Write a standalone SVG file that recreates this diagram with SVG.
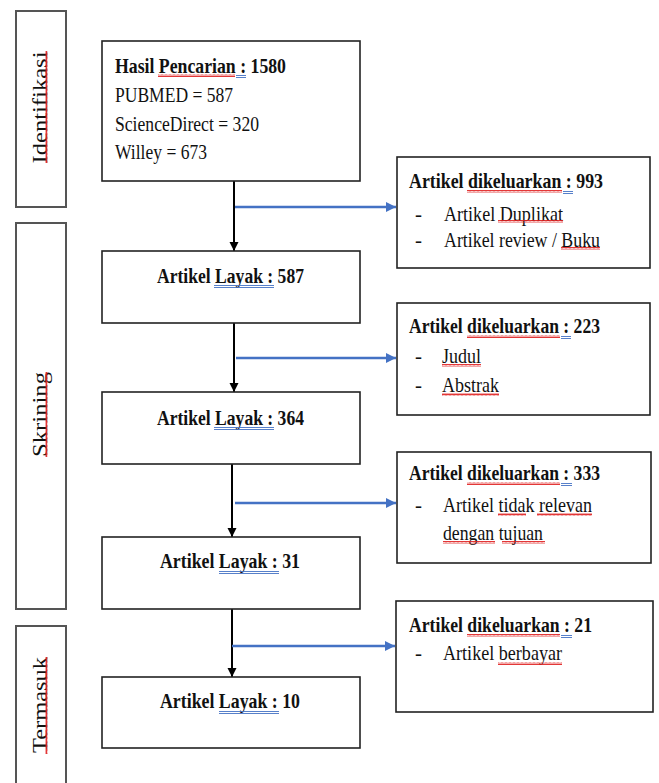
<svg xmlns="http://www.w3.org/2000/svg" width="659" height="783" viewBox="0 0 659 783">
<style>
.phase{fill:#fff;stroke:#555;stroke-width:2}
.box{fill:#fff;stroke:#222;stroke-width:1.6}
.t{font-family:"Liberation Serif","Times New Roman",serif;fill:#111}
.m{font-size:22px}
.s{font-size:21px}
.b{font-weight:bold}
.ph{font-family:"Liberation Serif","Times New Roman",serif;font-size:25px;fill:#111;text-anchor:middle}
.conn{stroke:#000;stroke-width:2;fill:none}
.blue{stroke:#4472C4;stroke-width:2.5;fill:none}
.du{stroke:#4472C4;stroke-width:0.9;fill:none}
</style>
<defs>
<marker id="ab" markerWidth="10" markerHeight="10" refX="9" refY="5" orient="auto" markerUnits="userSpaceOnUse"><path d="M0,0.5 L9,5 L0,9.5 Z" fill="#000"/></marker>
<marker id="abl" markerWidth="11" markerHeight="11" refX="10" refY="5.5" orient="auto" markerUnits="userSpaceOnUse"><path d="M0,0.5 L10,5.5 L0,10.5 Z" fill="#4472C4"/></marker>
<pattern id="wv" width="4" height="3" patternUnits="userSpaceOnUse"><path d="M0,2.5 L1,0.5 L2,2.5 L3,0.5 L4,2.5" stroke="#e02020" stroke-width="0.9" fill="none"/></pattern>
<pattern id="wvv" width="3" height="4" patternUnits="userSpaceOnUse"><path d="M2.5,0 L0.5,1 L2.5,2 L0.5,3 L2.5,4" stroke="#e02020" stroke-width="0.9" fill="none"/></pattern>
</defs>

<g id="phase-identifikasi">
<rect class="phase" x="16" y="11" width="50" height="196"/>
<text class="ph" transform="translate(47,107.5) scale(0.84,1) rotate(-90)" textLength="112" lengthAdjust="spacingAndGlyphs">Identifikasi</text>
<rect x="45" y="51" width="3" height="112" fill="url(#wvv)"/>
</g>
<g id="phase-skrining">
<rect class="phase" x="16" y="223" width="50" height="386"/>
<text class="ph" transform="translate(47,414.5) scale(0.84,1) rotate(-90)" textLength="85" lengthAdjust="spacingAndGlyphs">Skrining</text>
<rect x="45" y="372" width="3" height="85" fill="url(#wvv)"/>
</g>
<g id="phase-termasuk">
<rect class="phase" x="16" y="626" width="50" height="170"/>
<text class="ph" transform="translate(47,705) scale(0.84,1) rotate(-90)" textLength="96" lengthAdjust="spacingAndGlyphs">Termasuk</text>
<rect x="45" y="657" width="3" height="97" fill="url(#wvv)"/>
</g>

<g id="connectors">
<line class="conn" x1="234" y1="181" x2="234" y2="251" marker-end="url(#ab)"/>
<line class="conn" x1="234" y1="323" x2="234" y2="392" marker-end="url(#ab)"/>
<line class="conn" x1="232" y1="464" x2="232" y2="537" marker-end="url(#ab)"/>
<line class="conn" x1="232" y1="609" x2="232" y2="677" marker-end="url(#ab)"/>
<line class="blue" x1="235" y1="207" x2="396" y2="207" marker-end="url(#abl)"/>
<line class="blue" x1="236" y1="358" x2="396" y2="358" marker-end="url(#abl)"/>
<line class="blue" x1="235" y1="503" x2="396" y2="503" marker-end="url(#abl)"/>
<line class="blue" x1="232" y1="646" x2="395" y2="646" marker-end="url(#abl)"/>
</g>

<g id="node-hasil">
<rect class="box" x="102" y="41" width="258" height="140"/>
<text class="t m b" x="115" y="73" textLength="171" lengthAdjust="spacingAndGlyphs">Hasil Pencarian : 1580</text>
<text class="t m" x="115" y="102" textLength="118" lengthAdjust="spacingAndGlyphs">PUBMED = 587</text>
<text class="t m" x="115" y="130.5" textLength="144" lengthAdjust="spacingAndGlyphs">ScienceDirect = 320</text>
<text class="t m" x="115" y="159" textLength="92" lengthAdjust="spacingAndGlyphs">Willey = 673</text>
<rect x="158" y="74" width="77" height="3" fill="url(#wv)"/>
<path class="du" d="M236,75.5 H246 M236,77.5 H246"/>
</g>

<g id="node-layak-587">
<rect class="box" x="102" y="251" width="258" height="72"/>
<text class="t m b" x="157" y="283" textLength="147" lengthAdjust="spacingAndGlyphs">Artikel Layak : 587</text>
<path class="du" d="M214,285.5 H274 M214,287.5 H274"/>
</g>

<g id="node-layak-364">
<rect class="box" x="102" y="392" width="258" height="72"/>
<text class="t m b" x="157" y="425" textLength="147" lengthAdjust="spacingAndGlyphs">Artikel Layak : 364</text>
<path class="du" d="M214,427.5 H274 M214,429.5 H274"/>
</g>

<g id="node-layak-31">
<rect class="box" x="102" y="537" width="258" height="72"/>
<text class="t m b" x="160" y="568" textLength="140" lengthAdjust="spacingAndGlyphs">Artikel Layak : 31</text>
<path class="du" d="M219,571.5 H279 M219,573.5 H279"/>
</g>

<g id="node-layak-10">
<rect class="box" x="102" y="677" width="258" height="71"/>
<text class="t m b" x="160" y="708" textLength="140" lengthAdjust="spacingAndGlyphs">Artikel Layak : 10</text>
<path class="du" d="M219,711.5 H279 M219,713.5 H279"/>
</g>

<g id="node-keluar-993">
<rect class="box" x="397" y="157" width="253" height="111"/>
<text class="t s b" x="409" y="188" textLength="194" lengthAdjust="spacingAndGlyphs">Artikel dikeluarkan : 993</text>
<text class="t s" x="415" y="221">-</text>
<text class="t s" x="444" y="221" textLength="119" lengthAdjust="spacingAndGlyphs">Artikel Duplikat</text>
<text class="t s" x="415" y="247">-</text>
<text class="t s" x="444" y="247" textLength="156" lengthAdjust="spacingAndGlyphs">Artikel review / Buku</text>
<rect x="467" y="190" width="95" height="3" fill="url(#wv)"/>
<path class="du" d="M563,191.5 H573 M563,193.5 H573"/>
<rect x="498" y="220" width="65" height="3" fill="url(#wv)"/>
<rect x="561" y="247" width="39" height="3" fill="url(#wv)"/>
</g>

<g id="node-keluar-223">
<rect class="box" x="397" y="303" width="253" height="112"/>
<text class="t s b" x="409" y="333" textLength="191" lengthAdjust="spacingAndGlyphs">Artikel dikeluarkan : 223</text>
<text class="t s" x="415" y="363">-</text>
<text class="t s" x="442" y="363" textLength="39" lengthAdjust="spacingAndGlyphs">Judul</text>
<text class="t s" x="415" y="392">-</text>
<text class="t s" x="442" y="392" textLength="57" lengthAdjust="spacingAndGlyphs">Abstrak</text>
<rect x="467" y="335" width="93" height="3" fill="url(#wv)"/>
<path class="du" d="M561,336.5 H571 M561,338.5 H571"/>
<rect x="442" y="364" width="39" height="3" fill="url(#wv)"/>
<rect x="442" y="393" width="57" height="3" fill="url(#wv)"/>
</g>

<g id="node-keluar-333">
<rect class="box" x="397" y="452" width="254" height="111"/>
<text class="t s b" x="409" y="480" textLength="191" lengthAdjust="spacingAndGlyphs">Artikel dikeluarkan : 333</text>
<text class="t s" x="415" y="512">-</text>
<text class="t s" x="443" y="512" textLength="149" lengthAdjust="spacingAndGlyphs">Artikel tidak relevan</text>
<text class="t s" x="443" y="540" textLength="100" lengthAdjust="spacingAndGlyphs">dengan tujuan</text>
<rect x="467" y="482" width="93" height="3" fill="url(#wv)"/>
<path class="du" d="M561,483.5 H572 M561,485.5 H572"/>
<rect x="498" y="513" width="28" height="3" fill="url(#wv)"/>
<rect x="537" y="513" width="55" height="3" fill="url(#wv)"/>
<rect x="443" y="541" width="52" height="3" fill="url(#wv)"/>
<rect x="502" y="541" width="43" height="3" fill="url(#wv)"/>
</g>

<g id="node-keluar-21">
<rect class="box" x="396" y="601" width="257" height="111"/>
<text class="t s b" x="409" y="632" textLength="183" lengthAdjust="spacingAndGlyphs">Artikel dikeluarkan : 21</text>
<text class="t s" x="415" y="660">-</text>
<text class="t s" x="443" y="660" textLength="119" lengthAdjust="spacingAndGlyphs">Artikel berbayar</text>
<rect x="467" y="634" width="93" height="3" fill="url(#wv)"/>
<path class="du" d="M561,635.5 H572 M561,637.5 H572"/>
<rect x="498" y="662" width="64" height="3" fill="url(#wv)"/>
</g>
</svg>
